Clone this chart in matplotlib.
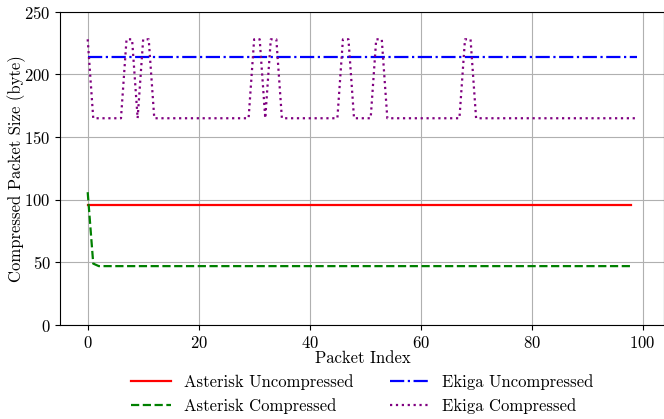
import matplotlib
matplotlib.use("Agg")
import matplotlib.pyplot as plt
import numpy as np

# Estilo tipo LaTeX (Computer Modern) sin necesitar latex instalado
plt.rcParams['font.family'] = 'serif'
plt.rcParams['font.serif'] = ['cmr10', 'DejaVu Serif']
plt.rcParams['mathtext.fontset'] = 'cm'
plt.rcParams['axes.formatter.use_mathtext'] = True
plt.rcParams['font.size'] = 12

# Tamaños de paquete (bytes)
asterisk_uncompressed = [96] * 99
asterisk_compressed = [106, 49] + [47] * 97
ekiga_uncompressed = [214] * 100
ekiga_compressed = [
    228, 165, 165, 165, 165, 165, 165, 228, 228, 165,
    228, 228, 165, 165, 165, 165, 165, 165, 165, 165,
    165, 165, 165, 165, 165, 165, 165, 165, 165, 165,
    228, 228, 165, 228, 228, 165, 165, 165, 165, 165,
    165, 165, 165, 165, 165, 165, 228, 228, 165, 165,
    165, 165, 228, 228, 165, 165, 165, 165, 165, 165,
    165, 165, 165, 165, 165, 165, 165, 165, 228, 228,
    165, 165, 165, 165, 165, 165, 165, 165, 165, 165,
    165, 165, 165, 165, 165, 165, 165, 165, 165, 165,
    165, 165, 165, 165, 165, 165, 165, 165, 165, 165,
]

fig = plt.figure(figsize=(6.64, 4.19), dpi=100)
ax = fig.add_axes([0.0907, 0.2243, 0.910, 0.7477])

ax.plot(np.arange(len(asterisk_uncompressed)), asterisk_uncompressed,
        color='red', linestyle='-', linewidth=1.6, label='Asterisk Uncompressed')
ax.plot(np.arange(len(asterisk_compressed)), asterisk_compressed,
        color='green', linestyle='--', linewidth=1.6, label='Asterisk Compressed')
ax.plot(np.arange(len(ekiga_uncompressed)), ekiga_uncompressed,
        color='blue', linestyle='-.', linewidth=1.6, label='Ekiga Uncompressed')
ax.plot(np.arange(len(ekiga_compressed)), ekiga_compressed,
        color='purple', linestyle=':', linewidth=1.6, label='Ekiga Compressed')

ax.set_ylim(0, 250)
ax.set_xticks([0, 20, 40, 60, 80, 100])
ax.set_xlabel('Packet Index', labelpad=0)
ax.set_ylabel('Compressed Packet Size (byte)', labelpad=-1)
ax.grid(True, color='#b0b0b0', linewidth=0.8)

ax.legend(loc='upper center', bbox_to_anchor=(0.5, -0.108), ncol=2,
          frameon=False, columnspacing=2.2, handlelength=2.4,
          handletextpad=0.75, labelspacing=0.52)

fig.savefig('out.png', dpi=100)
